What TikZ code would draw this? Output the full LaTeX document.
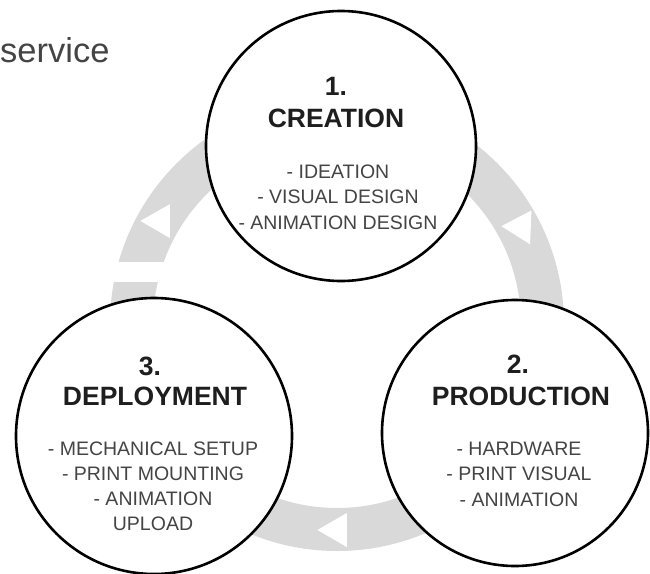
\documentclass[tikz,border=0pt]{standalone}
\usepackage{fontspec}
\setmainfont{Liberation Sans}
\definecolor{ringgray}{HTML}{D9D9D9}
\definecolor{titleink}{HTML}{1E1E1E}
\definecolor{bodyink}{HTML}{444444}
\begin{document}
\begin{tikzpicture}[x=1pt,y=-1pt,
  stage/.style={circle, draw=black, fill=white, line width=2.6pt, inner sep=0pt, minimum size=#1},
  ttl/.style={anchor=base, inner sep=0pt, font=\fontsize{26.5}{30}\selectfont\bfseries, text=titleink},
  itm/.style={anchor=base, inner sep=0pt, font=\fontsize{19.5}{22}\selectfont, text=bodyink},
  arrowtri/.style={fill=white}]
\useasboundingbox (0,0) rectangle (650,573);
\fill[white] (0,0) rectangle (650,573);
% heading fragment
\node[anchor=base west, inner sep=0pt, font=\fontsize{34.5}{38}\selectfont, text=bodyink] (head) at (0,62) {service};
% cycle ring
\coordinate (ringc) at (337,324);
\draw[ringgray, line width=43pt] (ringc) circle (205.5pt);
\fill[white] (105,262) rectangle (190,282);
% direction marks
\fill[arrowtri] (169.9,204.1) -- (140.4,220.9) -- (169.8,238.0) -- cycle;
\fill[arrowtri] (530.1,244.3) -- (531.4,210.4) -- (501.4,226.2) -- cycle;
\fill[arrowtri] (317.4,530) -- (346.8,513) -- (346.8,547) -- cycle;
% stages
\node[stage=270pt] (c1) at (341,146) {};
\node[stage=266pt] (c2) at (515,433) {};
\node[stage=276pt] (c3) at (154,436) {};
% texts stage 1
\node[ttl] (n1) at (336,95) {1.};
\node[ttl] (t1) at (336,127) {CREATION};
\node[itm] (a1) at (338,178) {- IDEATION};
\node[itm] (b1) at (338,203.5) {- VISUAL DESIGN};
\node[itm] (d1) at (338,229) {- ANIMATION DESIGN};
% texts stage 2
\node[ttl] (n2) at (518,373) {2.};
\node[ttl] (t2) at (521,405) {PRODUCTION};
\node[itm] (a2) at (519,455) {- HARDWARE};
\node[itm] (b2) at (519,480.5) {- PRINT VISUAL};
\node[itm] (d2) at (519,506) {- ANIMATION};
% texts stage 3
\node[ttl] (n3) at (150,375) {3.};
\node[ttl] (t3) at (155,405) {DEPLOYMENT};
\node[itm] (a3) at (153,455) {- MECHANICAL SETUP};
\node[itm] (b3) at (153,480) {- PRINT MOUNTING};
\node[itm] (d3) at (153,505) {- ANIMATION};
\node[itm] (e3) at (153,530) {UPLOAD};
\end{tikzpicture}
\end{document}
